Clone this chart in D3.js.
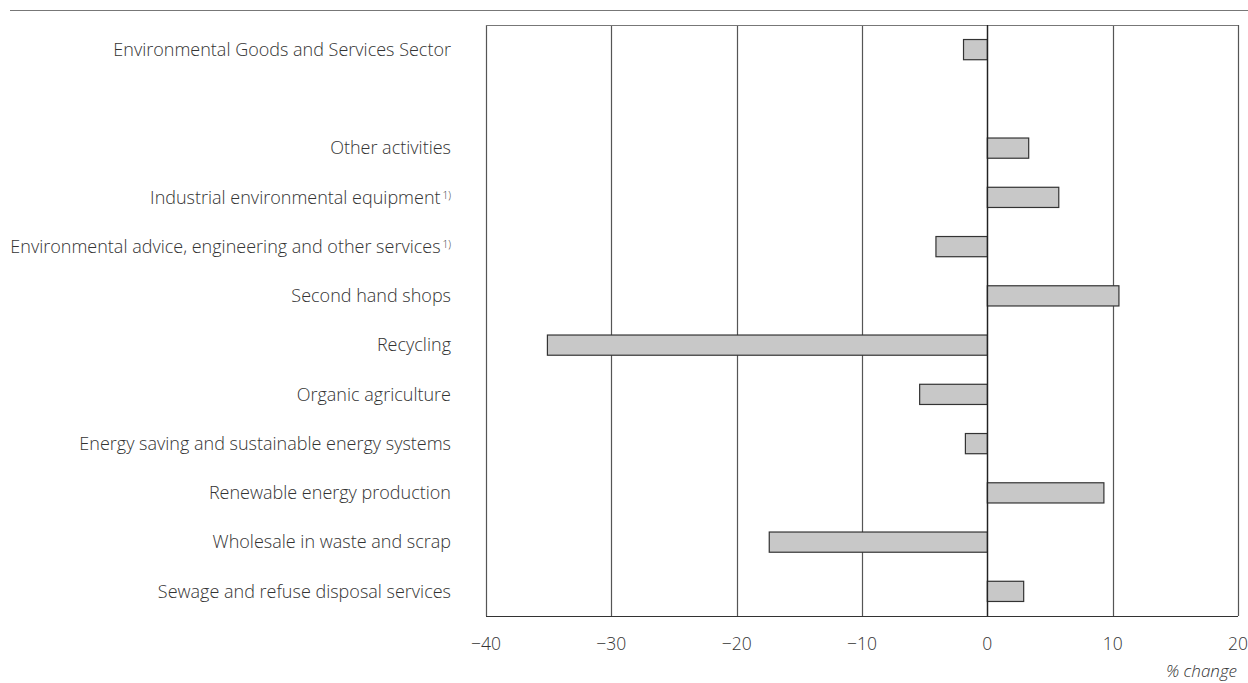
<!DOCTYPE html>
<html>
<head>
<meta charset="utf-8">
<script src="https://cdn.jsdelivr.net/npm/d3@7"></script>
<style>
  body { margin: 0; background: #fff; }
  text { font-family: "Open Sans", sans-serif; fill: #333; }
</style>
</head>
<body>
<div class="chart"></div>
<script>
var width = 1248
var height = 683
var margin = {top: 25, right: 10, bottom: 67, left: 486}

// data, top to bottom ('' is the empty slot under the total)
var categories = [
  'Environmental Goods and Services Sector',
  '',
  'Other activities',
  'Industrial environmental equipment',
  'Environmental advice, engineering and other services',
  'Second hand shops',
  'Recycling',
  'Organic agriculture',
  'Energy saving and sustainable energy systems',
  'Renewable energy production',
  'Wholesale in waste and scrap',
  'Sewage and refuse disposal services'
]
var values = [-1.9, null, 3.3, 5.7, -4.1, 10.5, -35.1, -5.4, -1.75, 9.3, -17.4, 2.9]
var notes = ['', '', '', '1)', '1)', '', '', '', '', '', '', '']
var ticks = [-40, -30, -20, -10, 0, 10, 20]

var svg = d3.select('.chart')
  .append('svg')
  .attr('width', width)
  .attr('height', height)

var x = d3.scaleLinear()
  .domain([-40, 20])
  .range([margin.left, width - margin.right])

var y = d3.scaleBand()
  .domain(d3.range(categories.length))
  .range([margin.top, height - margin.bottom])
  .paddingInner(0.59)
  .paddingOuter(0.295)

// top rule
svg.append('line')
  .attr('x1', 10).attr('x2', width)
  .attr('y1', 10.5).attr('y2', 10.5)
  .attr('stroke', '#777').attr('stroke-width', 1.2)

// grid lines
svg.selectAll('.grid')
  .data(ticks)
  .enter().append('line')
  .attr('class', 'grid')
  .attr('x1', function(d) { return Math.round(x(d)) + 0.5 })
  .attr('x2', function(d) { return Math.round(x(d)) + 0.5 })
  .attr('y1', margin.top)
  .attr('y2', height - margin.bottom)
  .attr('stroke', function(d) { return d === 0 ? '#222' : '#555' })
  .attr('stroke-width', 1.2)

// frame top and bottom
svg.append('line')
  .attr('x1', x(-40)).attr('x2', x(20))
  .attr('y1', margin.top + 0.5).attr('y2', margin.top + 0.5)
  .attr('stroke', '#777').attr('stroke-width', 1.2)
svg.append('line')
  .attr('x1', x(-40)).attr('x2', x(20))
  .attr('y1', height - margin.bottom + 0.5).attr('y2', height - margin.bottom + 0.5)
  .attr('stroke', '#333').attr('stroke-width', 1.2)

// bars
svg.selectAll('.bar')
  .data(values.map(function(v, i) { return {v: v, i: i} }).filter(function(d) { return d.v !== null }))
  .enter().append('rect')
  .attr('class', 'bar')
  .attr('x', function(d) { return x(Math.min(0, d.v)) })
  .attr('width', function(d) { return Math.abs(x(d.v) - x(0)) })
  .attr('y', function(d) { return y(d.i) })
  .attr('height', y.bandwidth())
  .attr('fill', '#c8c8c8')
  .attr('stroke', '#333')
  .attr('stroke-width', 1.2)

// zero line on top
svg.append('line')
  .attr('x1', Math.round(x(0)) + 0.5).attr('x2', Math.round(x(0)) + 0.5)
  .attr('y1', margin.top).attr('y2', height - margin.bottom)
  .attr('stroke', '#222').attr('stroke-width', 1.3)

// category labels
var labels = svg.selectAll('.label')
  .data(categories)
  .enter().append('text')
  .attr('class', 'label')
  .attr('x', 451)
  .attr('y', function(d, i) { return y(i) + y.bandwidth() / 2 })
  .attr('dy', '0.35em')
  .attr('text-anchor', 'end')
  .style('font-size', '18px')
  .style('font-weight', 300)
labels.append('tspan').text(function(d) { return d })
labels.append('tspan')
  .attr('dx', 2)
  .attr('dy', '-0.45em')
  .style('font-size', '10px')
  .text(function(d, i) { return notes[i] })

// tick labels
svg.selectAll('.tick')
  .data(ticks)
  .enter().append('text')
  .attr('class', 'tick')
  .attr('x', function(d) { return x(d) })
  .attr('y', 650)
  .attr('text-anchor', 'middle')
  .style('font-size', '17.5px')
  .style('font-weight', 300)
  .text(function(d) { return d < 0 ? '\u2212' + Math.abs(d) : d })

svg.append('text')
  .attr('x', 1237)
  .attr('y', 677)
  .attr('text-anchor', 'end')
  .style('font-size', '17px')
  .style('font-style', 'italic')
  .style('font-weight', 300)
  .text('% change')
</script>
</body>
</html>
